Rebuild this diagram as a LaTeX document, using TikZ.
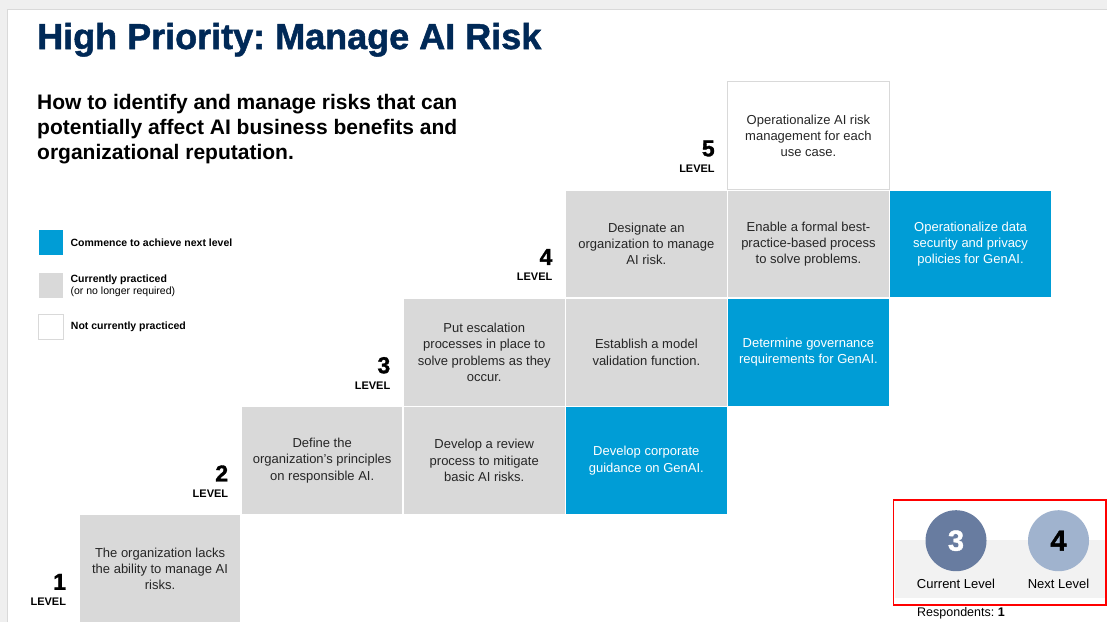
\documentclass[tikz,border=0pt]{standalone}
\usepackage{fontspec}
\setmainfont{Liberation Sans}
\newfontfamily\heavyfont[FakeBold=1.4]{Liberation Sans Bold}
\frenchspacing
\usetikzlibrary{positioning}
\definecolor{titleblue}{RGB}{0,41,87}
\definecolor{commenceblue}{RGB}{0,157,214}
\definecolor{practicedgray}{RGB}{217,217,217}
\definecolor{celltext}{RGB}{38,38,38}
\definecolor{slidegray}{RGB}{239,239,239}
\definecolor{currentfill}{RGB}{104,124,160}
\definecolor{nextfill}{RGB}{160,179,206}
\definecolor{bandgray}{RGB}{242,242,242}
\begin{document}
\begin{tikzpicture}[x=1pt,y=-1pt,
    cell/.style={rectangle, minimum width=162.1pt, minimum height=108.3pt,
      inner sep=0pt, align=center, line width=1.5pt,
      font=\fontsize{13}{16.3}\selectfont},
    practiced/.style={cell, fill=practicedgray, draw=white, text=celltext},
    commence/.style={cell, fill=commenceblue, draw=white, text=white},
    notpracticed/.style={cell, fill=white, draw=practicedgray, line width=1pt, text=celltext},
    lvlnum/.style={anchor=base east, inner sep=0pt, font=\fontsize{23}{23}\heavyfont},
    lvlword/.style={anchor=base east, inner sep=0pt, font=\fontsize{11}{11}\selectfont\bfseries},
    legbox/.style={rectangle, minimum size=24.5pt, inner sep=0pt},
    legtext/.style={align=left, inner sep=0pt, font=\fontsize{10.5}{12}\selectfont\bfseries},
    lvlcircle/.style={circle, minimum size=61pt, inner sep=0pt, font=\fontsize{29}{29}\heavyfont},
    circlelabel/.style={inner sep=0pt, font=\fontsize{13}{13}\selectfont}]
  \useasboundingbox (0,0) rectangle (1107,622);
  \fill[slidegray] (0,0) rectangle (1107,622);
  \fill[white] (7.5,9.5) rectangle (1107,622);
  \draw[practicedgray, line width=0.8pt] (7.5,622) -- (7.5,9.5) -- (1107,9.5);

  \node[anchor=base west, inner sep=0pt, text=titleblue, font=\fontsize{36}{36}\heavyfont]
    (title) at (37,49) {High Priority: Manage AI Risk};
  \node[anchor=base west, align=left, inner sep=0pt, font=\fontsize{21}{25}\selectfont\bfseries]
    (subtitle) at (37,159.5) {How to identify and manage risks that can\\potentially affect AI business benefits and\\organizational reputation.};

  \node[legbox, fill=commenceblue] (legcommence) at (51,242.5) {};
  \node[legbox, fill=practicedgray] (legpracticed) at (51,285.5) {};
  \node[legbox, fill=white, draw=practicedgray, line width=1pt] (legnot) at (51,327) {};
  \node[legtext, right=7pt of legcommence] (legcommencetext) {Commence to achieve next level};
  \node[legtext, right=7pt of legpracticed] (legpracticedtext) {Currently practiced\\{\mdseries (or no longer required)}};
  \node[legtext, right=7pt of legnot] (legnottext) {Not currently practiced};

  \foreach \r/\c/\kind/\txt in {
      1/1/practiced/{The organization lacks\\the ability to manage AI\\risks.},
      2/2/practiced/{Define the\\organization's principles\\on responsible AI.},
      2/3/practiced/{Develop a review\\process to mitigate\\basic AI risks.},
      2/4/commence/{Develop corporate\\guidance on GenAI.},
      3/3/practiced/{Put escalation\\processes in place to\\solve problems as they\\occur.},
      3/4/practiced/{Establish a model\\validation function.},
      3/5/commence/{Determine governance\\requirements for GenAI.},
      4/4/practiced/{Designate an\\organization to manage\\AI risk.},
      4/5/practiced/{Enable a formal best-\\practice-based process\\to solve problems.},
      4/6/commence/{Operationalize data\\security and privacy\\policies for GenAI.},
      5/5/notpracticed/{Operationalize AI risk\\management for each\\use case.}}
    \node[\kind] (cell-\r-\c) at ({160.05+(\c-1)*162.1},{677.15-\r*108.3}) {\txt};

  \foreach \r in {1,...,5} {
    \node[lvlnum] (lvl\r) at ([xshift=-12pt,yshift=34pt]cell-\r-\r.south west) {\r};
    \node[lvlword] (lvl\r-word) at ([xshift=-12pt,yshift=18pt]cell-\r-\r.south west) {LEVEL};
  }

  \fill[bandgray] (895,539.5) rectangle (1106,597.5);
  \draw[red, line width=1.5pt] (893.5,500) rectangle (1106.2,605);
  \node[lvlcircle, fill=currentfill, text=white] (current) at (956,540.7) {3};
  \node[lvlcircle, fill=nextfill, text=black] (nextlvl) at (1058.5,540.7) {4};
  \node[circlelabel, below=7pt of current] (currentlabel) {Current Level};
  \node[circlelabel, below=7pt of nextlvl] (nextlabel) {Next Level};
  \node[anchor=base west, inner sep=0pt, font=\fontsize{12.5}{12.5}\selectfont]
    (respondents) at (917,616.5) {Respondents: \textbf{1}};
\end{tikzpicture}
\end{document}
